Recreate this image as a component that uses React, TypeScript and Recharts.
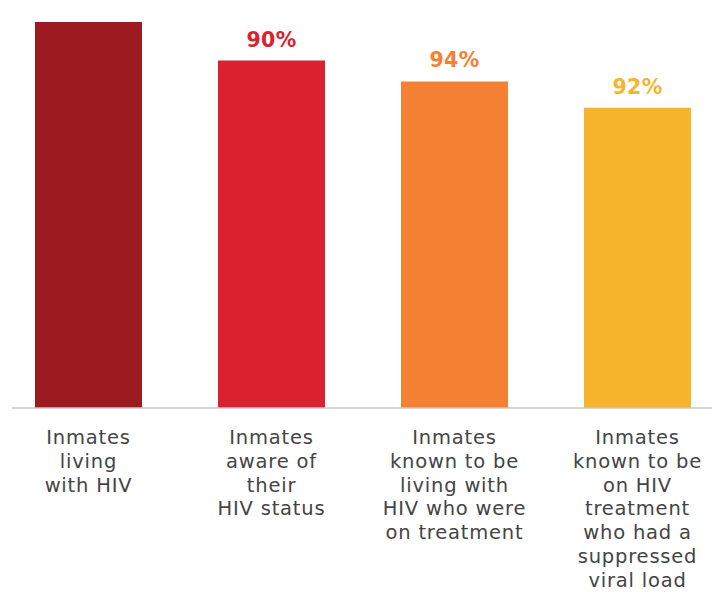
import React from "react";
import { BarChart, Bar, XAxis, YAxis, Cell, LabelList } from "recharts";

const categoryLines: string[][] = [
  ["Inmates", "living", "with HIV"],
  ["Inmates", "aware of", "their", "HIV status"],
  ["Inmates", "known to be", "living with", "HIV who were", "on treatment"],
  ["Inmates", "known to be", "on HIV", "treatment", "who had a", "suppressed", "viral load"],
];
const categories = ["living", "aware", "treatment", "suppressed"];
const values = [100, 90, 84.6, 77.8];
const valueLabels = ["", "90%", "94%", "92%"];
const colors = ["#9B1B20", "#DA212F", "#F48133", "#F6B42C"];

const data = categories.map((c, i) => ({ name: c, value: values[i], label: valueLabels[i], idx: i }));

const FONT = "'DejaVu Sans', sans-serif";

const Tick = (props: any) => {
  const { x, y, payload } = props;
  const lines = categoryLines[payload.index] || [];
  return (
    <text x={x} y={y} textAnchor="middle" fill="#444444" fontFamily={FONT} fontSize={19.5} letterSpacing={0.8}>
      {lines.map((l, i) => (
        <tspan key={i} x={x} y={y + 28 + i * 23.8}>
          {l}
        </tspan>
      ))}
    </text>
  );
};

const ValueLabel = (props: any) => {
  const { x, y, width, index } = props;
  const t = valueLabels[index];
  if (!t) return null;
  return (
    <text x={x + width / 2} y={y - 14} textAnchor="middle" fill={colors[index]} fontFamily={FONT} fontWeight="bold" fontSize={20.5} letterSpacing={0.3}>
      {t}
    </text>
  );
};

export default function App() {
  return (
    <div style={{ position: "absolute", left: 12, top: 0 }}>
      <BarChart width={700} height={592} data={data} margin={{ top: 22, right: 0, bottom: 0, left: 0 }}>
        <YAxis hide domain={[0, 100]} />
        <XAxis
          dataKey="name"
          height={184}
          padding={{ left: -15, right: -17 }}
          axisLine={{ stroke: "#c8c8c8", strokeWidth: 1.5 }}
          tickLine={false}
          tick={<Tick />}
          interval={0}
        />
        <Bar dataKey="value" barSize={107} isAnimationActive={false}>
          {data.map((d, i) => (
            <Cell key={i} fill={colors[i]} />
          ))}
          <LabelList dataKey="label" content={<ValueLabel />} />
        </Bar>
      </BarChart>
    </div>
  );
}
